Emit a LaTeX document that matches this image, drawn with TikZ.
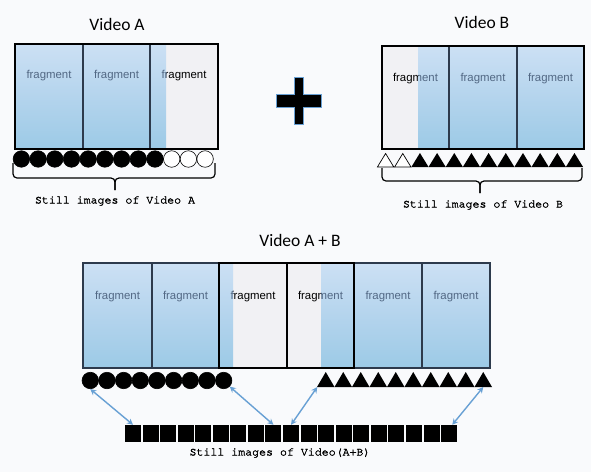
\documentclass[tikz,border=0pt]{standalone}
\usepackage{fontspec}
\setmainfont{Liberation Sans}
\newfontfamily\titlefont{Carlito}
\newfontfamily\capfont[FakeBold=2]{texgyrecursor-regular.otf}
\usetikzlibrary{arrows.meta,calc}

\definecolor{pagebg}{RGB}{249,250,252}
\definecolor{fragwhite}{RGB}{241,241,244}
\definecolor{bluetop}{RGB}{204,224,244}
\definecolor{bluemid}{RGB}{180,212,237}
\definecolor{bluebot}{RGB}{156,202,230}
\definecolor{fragink}{RGB}{82,104,132}
\definecolor{fragedge}{RGB}{45,58,76}
\definecolor{linkblue}{RGB}{104,160,212}

\tikzset{
  titletext/.style={font=\titlefont\fontsize{17.5}{20}\selectfont, inner sep=0pt},
  fragtext/.style={font=\fontsize{11.4}{13}\selectfont, inner sep=0pt},
  captext/.style={font=\capfont\fontsize{11.6}{13}\selectfont, inner sep=0pt},
  stilldot/.style={circle, fill=black, draw=black, line width=0.6pt, minimum size=16.5pt, inner sep=0pt},
  hollowdot/.style={stilldot, fill=white},
  stillsq/.style={rectangle, fill=black, minimum width=16pt, minimum height=17pt, inner sep=0pt},
  linkarrow/.style={draw=linkblue, line width=1.4pt,
    {Stealth[length=6pt,width=6pt]}-{Stealth[length=6pt,width=6pt]}},
  bracket/.style={draw=black, line width=1.2pt, rounded corners=4pt},
  blueshade/.style={top color=bluetop, bottom color=bluebot, middle color=bluemid},
  fragline/.style={draw=fragedge, line width=1.3pt},
  boxline/.style={draw=black, line width=1.3pt},
}

% one video fragment: #1 name, #2/#3 left/right, #4/#5 blue part, #6/#7 top/bottom, #8 label y
\newcommand\fragment[8]{%
  \fill[fragwhite] (#2,#6) rectangle (#3,#7);
  \shade[blueshade] (#4,#6) rectangle (#5,#7);
  \begin{scope}[even odd rule]
    \clip (#2,#6) rectangle (#3,#7) (#4,#6) rectangle (#5,#7);
    \node[fragtext, text=black] (#1) at ({(#2+#3)/2},#8) {fragment};
  \end{scope}
  \begin{scope}
    \clip (#4,#6) rectangle (#5,#7);
    \node[fragtext, text=fragink] (#1-tint) at ({(#2+#3)/2},#8) {fragment};
  \end{scope}
  \draw[fragline] (#2,#6) rectangle (#3,#7);
}

\begin{document}
\begin{tikzpicture}[x=1pt,y=-1pt]
  \useasboundingbox (0,0) rectangle (591,472);
  \fill[pagebg] (0,0) rectangle (591,472);

  % ---------- Video A ----------
  \node[titletext] (titleA) at (117,24) {Video A};
  \fragment{fa1}{15}{83}{15}{83}{44}{149}{76}
  \fragment{fa2}{83}{150}{83}{150}{44}{149}{76}
  \fragment{fa3}{150}{218}{150}{166}{44}{149}{76}
  \draw[boxline] (15,44) rectangle (218,149);
  \foreach \i in {0,...,11} {
    \pgfmathsetmacro\cx{21.4+16.7*\i}
    \ifnum\i<9
      \node[stilldot] (ca\i) at (\cx,159) {};
    \else
      \node[hollowdot] (ca\i) at (\cx,159) {};
    \fi
  }
  \draw[bracket] (13,163) |- (115,178) -- (115,190);
  \draw[bracket] (215,163) |- (115,178) -- (115,190);
  \node[captext] (capA) at (115,201) {Still images of Video A};

  % ---------- plus sign ----------
  \filldraw[fill=black, draw=linkblue, line width=0.6pt]
    (276,94) -- (294,94) -- (294,77) -- (303,77) -- (303,94) -- (321,94)
    -- (321,107) -- (303,107) -- (303,124) -- (294,124) -- (294,107)
    -- (276,107) -- cycle;

  % ---------- Video B ----------
  \node[titletext] (titleB) at (482,22) {Video B};
  \fragment{fb1}{382}{449}{418}{449}{46}{149}{79}
  \fragment{fb2}{449}{517}{449}{517}{46}{149}{79}
  \fragment{fb3}{517}{584}{517}{584}{46}{149}{79}
  \draw[boxline] (382,46) rectangle (584,149);
  \foreach \i in {0,...,11} {
    \pgfmathsetmacro\tx{385.6+17.17*\i}
    \coordinate (tb\i) at (\tx,153);
    \ifnum\i<2
      \filldraw[fill=white, draw=black, line width=0.7pt]
        (\tx-8.2,167) -- (\tx,153.5) -- (\tx+8.2,167) -- cycle;
    \else
      \fill[black] (\tx-8.6,167) -- (\tx,153) -- (\tx+8.6,167) -- cycle;
    \fi
  }
  \draw[bracket] (382,168) |- (480,181) -- (480,193);
  \draw[bracket] (582,168) |- (480,181) -- (480,193);
  \node[captext] (capB) at (483,205) {Still images of Video B};

  % ---------- Video A + B ----------
  \node[titletext] (titleAB) at (300,240) {Video A + B};
  \fragment{fab1}{83}{152}{83}{152}{263}{368}{297}
  \fragment{fab2}{152}{219}{152}{219}{263}{368}{297}
  \fragment{fab3}{219}{287}{219}{233}{263}{368}{297}
  \fragment{fab4}{287}{354}{321}{354}{263}{368}{297}
  \fragment{fab5}{354}{422}{354}{422}{263}{368}{297}
  \fragment{fab6}{422}{490}{422}{490}{263}{368}{297}
  \draw[boxline] (219,263) rectangle (287,368);
  \draw[boxline] (287,263) rectangle (354,368);

  \foreach \i in {0,...,8} {
    \pgfmathsetmacro\cx{90.3+16.67*\i}
    \node[stilldot] (cab\i) at (\cx,380.5) {};
  }
  \foreach \i in {0,...,9} {
    \pgfmathsetmacro\tx{325.75+17.5*\i}
    \coordinate (tab\i-left) at (\tx-8.5,387);
    \coordinate (tab\i-base) at (\tx,387);
    \fill[black] (\tx-8.75,387) -- (\tx,372) -- (\tx+8.75,387) -- cycle;
  }
  \foreach \i in {0,...,18} {
    \pgfmathsetmacro\sx{133+17.56*\i}
    \node[stillsq] (s\i) at (\sx,433.5) {};
  }

  \draw[linkarrow] (cab0.south) -- (s0.north);
  \draw[linkarrow] (cab8.south east) -- (s8.north);
  \draw[linkarrow] (tab0-left) -- (s9.north);
  \draw[linkarrow] (tab9-base) -- (s18.70);

  \node[captext] (capAB) at (280,453) {Still images of Video(A+B)};
\end{tikzpicture}
\end{document}
